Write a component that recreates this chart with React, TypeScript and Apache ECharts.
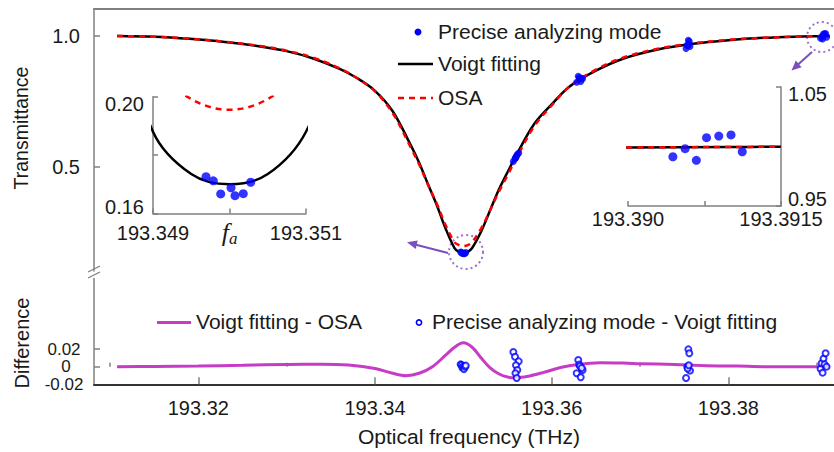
import React, { useEffect, useRef } from "react";
import * as echarts from "echarts";

const W = 834;
const H = 452;
const FONT = "Liberation Sans, Arial, sans-serif";

// Frequency grid (THz) shared by the fitted and measured spectra
const freq = [
  193.3108, 193.315, 193.319, 193.323, 193.327, 193.33, 193.333, 193.336, 193.338, 193.34,
  193.342, 193.344, 193.345, 193.346, 193.347, 193.348, 193.349, 193.3495, 193.35, 193.3505,
  193.351, 193.352, 193.353, 193.354, 193.355, 193.356, 193.358, 193.36, 193.362, 193.365,
  193.368, 193.372, 193.376, 193.38, 193.384, 193.388, 193.39, 193.391, 193.3915,
];
const voigtT = [
  1.0, 0.997, 0.989, 0.977, 0.96, 0.942, 0.914, 0.874, 0.838, 0.79,
  0.712, 0.585, 0.515, 0.432, 0.352, 0.262, 0.188, 0.1735, 0.17, 0.1735,
  0.188, 0.25, 0.33, 0.41, 0.478, 0.544, 0.662, 0.738, 0.806, 0.867,
  0.912, 0.948, 0.97, 0.984, 0.993, 0.998, 0.9992, 0.9996, 0.9998,
];
const osaT = [
  1.0, 0.997, 0.99, 0.978, 0.962, 0.944, 0.917, 0.876, 0.838, 0.788,
  0.705, 0.576, 0.508, 0.43, 0.358, 0.275, 0.2105, 0.1992, 0.1955, 0.1992,
  0.2105, 0.262, 0.33, 0.402, 0.466, 0.532, 0.653, 0.734, 0.806, 0.871,
  0.916, 0.951, 0.972, 0.985, 0.993, 0.998, 0.9992, 0.9996, 0.9998,
];

// Voigt fitting - OSA residual
const diffFreq = [
  193.3108, 193.315, 193.32, 193.325, 193.33, 193.334, 193.337, 193.34, 193.342, 193.3435,
  193.345, 193.3465, 193.348, 193.349, 193.35, 193.351, 193.352, 193.353, 193.354, 193.355,
  193.356, 193.3575, 193.359, 193.361, 193.363, 193.3655, 193.368, 193.37, 193.374, 193.3775,
  193.381, 193.384, 193.388, 193.3915,
];
const diffVal = [
  0.0, 0.0003, 0.0008, 0.0015, 0.0025, 0.0028, 0.0018, -0.002, -0.0075, -0.0102,
  -0.0075, 0.0, 0.013, 0.022, 0.027, 0.022, 0.01, -0.001, -0.008, -0.0118,
  -0.0125, -0.0105, -0.0068, -0.001, 0.0025, 0.0043, 0.004, 0.0034, 0.0023, 0.0011,
  0.0007, 0.0, 0.0, 0.0,
];

// Precise analyzing mode samples: frequency, transmittance, residual to the Voigt fit
const preciseFreq = [
  193.349693, 193.349788, 193.349885, 193.35002, 193.350072, 193.35018, 193.350277,
  193.35566, 193.35585, 193.35627, 193.35596, 193.35611, 193.3559, 193.35604,
  193.36301, 193.36312, 193.3635, 193.36283, 193.36329, 193.3632, 193.3634,
  193.37547, 193.37558, 193.37535, 193.37566, 193.37521, 193.3754, 193.37552,
  193.39044, 193.39056, 193.39067, 193.39077, 193.39089, 193.39101, 193.39112,
];
const preciseT = [
  0.1726, 0.1712, 0.1667, 0.1688, 0.1661, 0.1668, 0.1707,
  0.519, 0.53, 0.552, 0.536, 0.546, 0.532, 0.541,
  0.846, 0.84, 0.836, 0.823, 0.826, 0.838, 0.838,
  0.984, 0.979, 0.965, 0.96, 0.952, 0.963, 0.967,
  0.9914, 0.9982, 0.9884, 1.0074, 1.0088, 1.0097, 0.9956,
];
const preciseDiff = [
  0.0026, 0.0018, -0.001, 0.0006, -0.0028, 0.0, 0.0012,
  0.0166, 0.0113, 0.006, 0.0015, -0.0038, -0.0075, -0.0128,
  0.0075, 0.0023, -0.0038, -0.0075, -0.012, 0.0005, -0.0015,
  0.0196, 0.0151, 0.0, -0.0045, -0.0128, -0.002, 0.0015,
  -0.0023, 0.0038, -0.0068, 0.0091, 0.0026, 0.0151, 0.0,
];

// Axis ticks
const mainTicks = [193.32, 193.34, 193.36, 193.38];
const minorTicks = [193.31, 193.33, 193.35, 193.37, 193.39];
const transTicks = [0.5, 1.0];
const diffOuterTicks = [-0.02, 0.02];
const diffZeroTick = [0];
const insetLTicksX = [193.349, 193.35, 193.351];
const insetLTicksY = [0.16, 0.18, 0.2];
const insetRTicksX = [193.39, 193.39075, 193.3915];
const insetRTicksY = [0.95, 1.05];

const F_MIN = 193.30819;
const F_MAX = 193.39196;

const BLACK = "#000000";
const RED = "#ff0000";
const BLUE = "#0000ff";
const MAGENTA = "#c63cc6";
const GRAY = "#808080";
const TXT = "#1a1a1a";
const PURPLE = "#7b4fbf";

const pairs = (xs: number[], ys: number[]) => xs.map((x, i) => [x, ys[i]]);

// horizontal caption text, slightly widened
const caption = (text: string, x: number, y: number, align = "left") => ({
  type: "text",
  x,
  y,
  scaleX: 1.08,
  style: { text, fill: TXT, font: `19.5px ${FONT}`, align, verticalAlign: "middle" },
});

function buildOption() {
  const tickStyle = { color: GRAY, width: 1.5 };
  const labelBase = {
    color: TXT,
    fontFamily: FONT,
    fontSize: 20,
    lineHeight: 14,
    hideOverlap: false,
    showMinLabel: true,
    showMaxLabel: true,
  };
  // the difference panel stacks its three labels tightly
  const diffLabelBase = { ...labelBase, fontSize: 17, lineHeight: 12 };
  const near = (a: number, b: number) => Math.abs(a - b) < 1e-7;
  const diffLabel = (v: number) => (near(v, 0) ? "0" : v.toFixed(2));

  const voigtLine = (xi: number, yi: number) => ({
    type: "line",
    xAxisIndex: xi,
    yAxisIndex: yi,
    data: pairs(freq, voigtT),
    smooth: 0.35,
    symbol: "none",
    lineStyle: { color: BLACK, width: 2.5 },
    z: 2,
    silent: true,
  });
  const osaLine = (xi: number, yi: number) => ({
    type: "line",
    xAxisIndex: xi,
    yAxisIndex: yi,
    data: pairs(freq, osaT),
    smooth: 0.35,
    symbol: "none",
    lineStyle: { color: RED, width: 2.5, type: [6, 5] },
    z: 3,
    silent: true,
  });
  const preciseDots = (xi: number, yi: number, size: number) => ({
    type: "scatter",
    xAxisIndex: xi,
    yAxisIndex: yi,
    data: pairs(preciseFreq, preciseT),
    symbol: "circle",
    symbolSize: size,
    itemStyle: { color: BLUE },
    z: 4,
    silent: true,
  });

  return {
    animation: false,
    backgroundColor: "#ffffff",
    grid: [
      { left: 94, top: 9, width: 740, height: 262 },
      { left: 94, top: 278.4, width: 740, height: 105.9 },
      { left: 153, top: 96.7, width: 153, height: 116.8 },
      { left: 628, top: 87, width: 153, height: 119 },
    ],
    xAxis: [
      {
        gridIndex: 0,
        type: "value",
        position: "top",
        min: F_MIN,
        max: F_MAX,
        axisLine: { show: true, lineStyle: { color: GRAY, width: 2 } },
        axisTick: { show: false },
        axisLabel: { show: false },
        splitLine: { show: false },
      },
      {
        gridIndex: 1,
        type: "value",
        position: "bottom",
        min: F_MIN,
        max: F_MAX,
        axisLine: { show: true, onZero: false, lineStyle: { color: "#333333", width: 2 } },
        axisTick: { show: true, inside: true, length: 7, customValues: mainTicks, lineStyle: tickStyle },
        axisLabel: {
          ...labelBase,
          margin: 17,
          customValues: mainTicks,
          formatter: (v: number) => v.toFixed(2),
        },
        splitLine: { show: false },
      },
      {
        gridIndex: 1,
        type: "value",
        position: "bottom",
        min: F_MIN,
        max: F_MAX,
        axisLine: { show: false },
        axisTick: { show: true, inside: true, length: 4, customValues: minorTicks, lineStyle: tickStyle },
        axisLabel: { show: false },
        splitLine: { show: false },
      },
      {
        gridIndex: 2,
        type: "value",
        min: 193.349,
        max: 193.351,
        axisLine: { show: true, onZero: false, lineStyle: { color: GRAY, width: 1.5 } },
        axisTick: { show: true, inside: true, length: 5, customValues: insetLTicksX, lineStyle: tickStyle },
        axisLabel: {
          ...labelBase,
          margin: 12,
          customValues: insetLTicksX,
          formatter: (v: number) => (near(v, 193.35) ? "{f|f}{a|a}" : v.toFixed(3)),
          rich: {
            f: { fontFamily: "Liberation Serif, serif", fontStyle: "italic", fontSize: 26, color: TXT },
            a: {
              fontFamily: "Liberation Serif, serif",
              fontStyle: "italic",
              fontSize: 17,
              color: TXT,
              padding: [12, 0, 0, 0],
            },
          },
        },
        splitLine: { show: false },
      },
      {
        gridIndex: 3,
        type: "value",
        min: 193.39,
        max: 193.3915,
        axisLine: { show: true, onZero: false, lineStyle: { color: GRAY, width: 1.5 } },
        axisTick: { show: true, inside: true, length: 5, customValues: insetRTicksX, lineStyle: tickStyle },
        axisLabel: {
          ...labelBase,
          margin: 6,
          customValues: [193.39, 193.3915],
          formatter: (v: number) => (near(v, 193.39) ? v.toFixed(3) : v.toFixed(4)),
        },
        splitLine: { show: false },
      },
    ],
    yAxis: [
      {
        gridIndex: 0,
        type: "value",
        min: 0.1,
        max: 1.1034,
        axisLine: { show: true, onZero: false, lineStyle: { color: GRAY, width: 1.5 } },
        axisTick: { show: true, inside: true, length: 6, customValues: transTicks, lineStyle: tickStyle },
        axisLabel: { ...labelBase, margin: 14, customValues: transTicks, formatter: (v: number) => v.toFixed(1) },
        splitLine: { show: false },
      },
      {
        gridIndex: 1,
        type: "value",
        min: -0.02,
        max: 0.1,
        axisLine: { show: true, onZero: false, lineStyle: { color: GRAY, width: 1.5 } },
        axisTick: { show: true, inside: true, length: 6, customValues: [0, 0.02], lineStyle: tickStyle },
        axisLabel: {
          ...diffLabelBase,
          margin: 30,
          align: "center",
          customValues: diffOuterTicks,
          formatter: diffLabel,
        },
        splitLine: { show: false },
      },
      {
        gridIndex: 2,
        type: "value",
        min: 0.16,
        max: 0.2,
        axisLine: { show: true, onZero: false, lineStyle: { color: GRAY, width: 1.5 } },
        axisTick: { show: true, inside: true, length: 5, customValues: insetLTicksY, lineStyle: tickStyle },
        axisLabel: {
          ...labelBase,
          margin: 9,
          customValues: [0.16, 0.2],
          verticalAlignMinLabel: "bottom",
          verticalAlignMaxLabel: "top",
          formatter: (v: number) => v.toFixed(2),
        },
        splitLine: { show: false },
      },
      {
        gridIndex: 3,
        type: "value",
        position: "right",
        min: 0.95,
        max: 1.05,
        axisLine: { show: true, onZero: false, lineStyle: { color: GRAY, width: 1.5 } },
        axisTick: { show: true, inside: true, length: 5, customValues: insetRTicksY, lineStyle: tickStyle },
        axisLabel: {
          ...labelBase,
          margin: 7,
          customValues: insetRTicksY,
          verticalAlignMinLabel: "bottom",
          verticalAlignMaxLabel: "top",
          formatter: (v: number) => v.toFixed(2),
        },
        splitLine: { show: false },
      },
      {
        // carries only the zero label of the difference panel
        gridIndex: 1,
        type: "value",
        position: "left",
        min: -0.02,
        max: 0.1,
        axisLine: { show: false },
        axisTick: { show: false },
        axisLabel: {
          ...diffLabelBase,
          margin: 28,
          align: "center",
          customValues: diffZeroTick,
          formatter: diffLabel,
        },
        splitLine: { show: false },
      },
    ],
    series: [
      voigtLine(0, 0),
      osaLine(0, 0),
      preciseDots(0, 0, 7),
      {
        type: "line",
        xAxisIndex: 1,
        yAxisIndex: 1,
        data: pairs(diffFreq, diffVal),
        smooth: 0.35,
        symbol: "none",
        lineStyle: { color: MAGENTA, width: 3 },
        z: 2,
        silent: true,
      },
      {
        type: "scatter",
        xAxisIndex: 1,
        yAxisIndex: 1,
        data: pairs(preciseFreq, preciseDiff),
        symbol: "emptyCircle",
        symbolSize: 6,
        itemStyle: { color: BLUE, borderColor: BLUE, borderWidth: 1.6 },
        z: 4,
        silent: true,
      },
      voigtLine(3, 2),
      osaLine(3, 2),
      preciseDots(3, 2, 9),
      voigtLine(4, 3),
      osaLine(4, 3),
      preciseDots(4, 3, 9),
    ],
    graphic: [
      // axis titles
      {
        type: "text",
        x: 21,
        y: 128,
        rotation: Math.PI / 2,
        style: { text: "Transmittance", fill: TXT, font: `19.5px ${FONT}`, align: "center", verticalAlign: "middle" },
      },
      {
        type: "text",
        x: 22,
        y: 343,
        rotation: Math.PI / 2,
        style: { text: "Difference", fill: TXT, font: `20px ${FONT}`, align: "center", verticalAlign: "middle" },
      },
      caption("Optical frequency (THz)", 469, 437, "center"),
      // axis break marks
      { type: "line", shape: { x1: 88, y1: 272, x2: 100, y2: 266 }, style: { stroke: GRAY, lineWidth: 1.3 } },
      { type: "line", shape: { x1: 88, y1: 278, x2: 100, y2: 272 }, style: { stroke: GRAY, lineWidth: 1.3 } },
      // top legend
      { type: "circle", shape: { cx: 418, cy: 32, r: 3.5 }, style: { fill: BLUE } },
      caption("Precise analyzing mode", 438, 32),
      { type: "line", shape: { x1: 398, y1: 64, x2: 433, y2: 64 }, style: { stroke: BLACK, lineWidth: 2.5 } },
      caption("Voigt fitting", 438, 64),
      {
        type: "line",
        shape: { x1: 398, y1: 98, x2: 433, y2: 98 },
        style: { stroke: RED, lineWidth: 2.5, lineDash: [6, 5] },
      },
      caption("OSA", 438, 98),
      // bottom legend
      { type: "line", shape: { x1: 157, y1: 322.5, x2: 191, y2: 322.5 }, style: { stroke: MAGENTA, lineWidth: 3 } },
      caption("Voigt fitting - OSA", 196, 322),
      { type: "circle", shape: { cx: 419, cy: 322.5, r: 2.6 }, style: { fill: "#ffffff", stroke: BLUE, lineWidth: 1.6 } },
      caption("Precise analyzing mode - Voigt fitting", 432, 322),
      // zoom call-outs
      {
        type: "circle",
        shape: { cx: 466, cy: 252, r: 17 },
        style: { fill: "none", stroke: "#9a72d0", lineWidth: 2, lineDash: [2, 3] },
      },
      { type: "line", shape: { x1: 448, y1: 253, x2: 415, y2: 244.5 }, style: { stroke: PURPLE, lineWidth: 2 } },
      {
        type: "polygon",
        shape: { points: [[407, 242.3], [417.7, 240.6], [415.7, 249]] },
        style: { fill: PURPLE },
      },
      {
        type: "circle",
        shape: { cx: 822, cy: 37, r: 15 },
        style: { fill: "none", stroke: "#9a72d0", lineWidth: 2, lineDash: [2, 3] },
      },
      { type: "line", shape: { x1: 812, y1: 52, x2: 798, y2: 64.5 }, style: { stroke: PURPLE, lineWidth: 2 } },
      {
        type: "polygon",
        shape: { points: [[791.5, 70.5], [801.6, 67.2], [795.8, 60.6]] },
        style: { fill: PURPLE },
      },
    ],
  };
}

export default function App() {
  const ref = useRef<HTMLDivElement>(null);
  useEffect(() => {
    document.body.style.margin = "0";
    if (!ref.current) return;
    const chart = echarts.init(ref.current, null, { renderer: "svg", width: W, height: H });
    chart.setOption(buildOption() as any);
    return () => chart.dispose();
  }, []);
  return <div ref={ref} style={{ width: W, height: H }} />;
}
